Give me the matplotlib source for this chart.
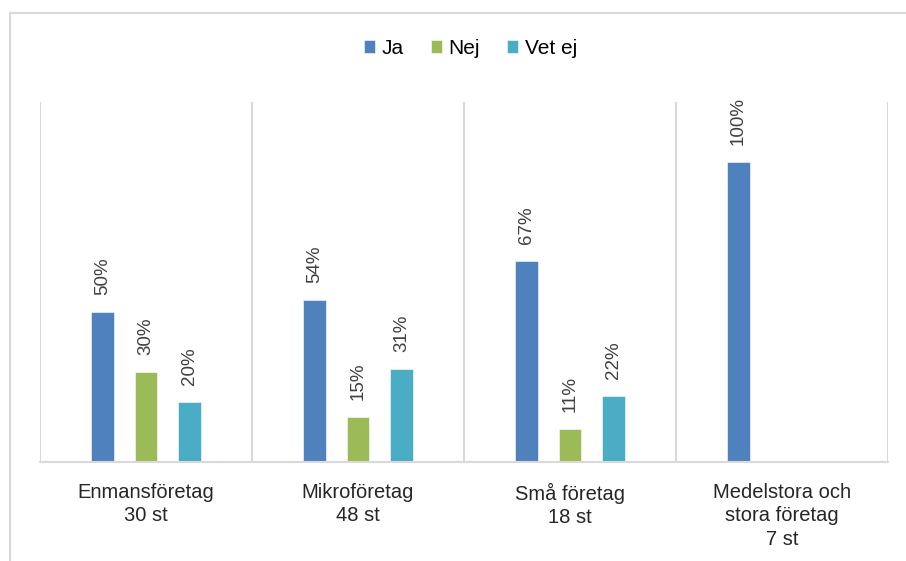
import numpy as np
import matplotlib
matplotlib.use('Agg')
import matplotlib.pyplot as plt
from matplotlib.lines import Line2D

plt.rcParams['font.family'] = ['Liberation Sans', 'DejaVu Sans']

# data
categories = ['Enmansföretag\n30 st', 'Mikroföretag\n48 st', 'Små företag\n18 st',
              'Medelstora och\nstora företag\n7 st']
series = ['Ja', 'Nej', 'Vet ej']
ja = [50, 54, 67, 100]
nej = [30, 15, 11, None]
vet_ej = [20, 31, 22, None]
colors = ['#4F81BD', '#9BBB59', '#4BACC6']

fig = plt.figure(figsize=(9.06, 5.61), dpi=100)
ax = fig.add_axes([40 / 906, 1 - 462 / 561, 848 / 906, 360 / 561])

x = np.arange(len(categories))
width = 0.108
step = 0.205
for i, (vals, c, name) in enumerate(zip([ja, nej, vet_ej], colors, series)):
    v = np.array([np.nan if a is None else a for a in vals], dtype=float)
    pos = x + (i - 1) * step
    bars = ax.bar(pos, v, width, color=c, label=name, edgecolor='white', linewidth=0.4)
    for xp, val in zip(pos, v):
        if np.isnan(val):
            continue
        ax.annotate(f'{int(val)}%', (xp, val), xytext=(0, 12), textcoords='offset points',
                    rotation=90, ha='center', va='bottom', fontsize=13.5, color='#404040')

ax.set_xlim(-0.5, len(categories) - 0.5)
ax.set_ylim(0, 120)
for s in ['top', 'right', 'left']:
    ax.spines[s].set_visible(False)
ax.spines['bottom'].set_color('#d9d9d9')
ax.spines['bottom'].set_linewidth(1.5)
for b in np.arange(len(categories) + 1) - 0.5:
    ax.axvline(b, color='#d9d9d9', linewidth=1.5, zorder=0)
ax.set_yticks([])
ax.set_xticks(x)
ax.set_xticklabels(categories, fontsize=14.5, color='#262626', linespacing=1.3)
ax.tick_params(axis='x', length=0, pad=15)

fig.legend(loc='center', bbox_to_anchor=(0.519, 0.914), ncol=3, frameon=False,
           fontsize=15, handlelength=0.55, handleheight=0.55, handletextpad=0.3,
           columnspacing=1.3)

# outer chart frame (cropped)
fig.add_artist(Line2D([10 / 906, 10 / 906], [0, 1 - 13 / 561], color='#d9d9d9', linewidth=1.5))
fig.add_artist(Line2D([10 / 906, 905 / 906], [1 - 13 / 561, 1 - 13 / 561], color='#d9d9d9', linewidth=1.5))

fig.savefig('out.png', dpi=100)
